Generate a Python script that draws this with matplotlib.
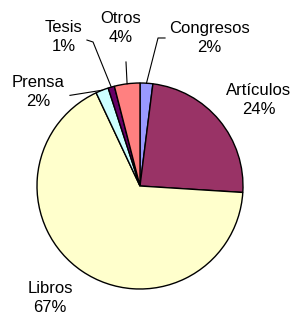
import matplotlib
matplotlib.use('Agg')
from matplotlib import pyplot as plt
import numpy as np

# Publication types (clockwise from top)
labels = ["Congresos", "Artículos", "Libros", "Prensa", "Tesis", "Otros"]
values = [2, 24, 67, 2, 1, 4]
colors = ['#9999FF', '#993366', '#FFFFCC', '#CCFFFF', '#660066', '#FF8080']

# label text positions (data units, pie radius = 1)
text_pos = [(0.67, 1.437), (1.155, 0.835), (-0.874, -1.087),
            (-0.99, 0.913), (-0.738, 1.447), (-0.184, 1.534)]
# leader lines start points (None = no line)
leaders = [[(0.243, 1.437), (0.175, 1.437)], None, None,
           [(-0.68, 0.88)], [(-0.515, 1.417), (-0.456, 1.398)],
           [(-0.136, 1.204)]]

plt.rcParams['font.family'] = ['Liberation Sans', 'DejaVu Sans']

fig = plt.figure(figsize=(2.94, 3.18), dpi=100)
ax = fig.add_axes([0, 0, 1, 1])
wedges, _ = ax.pie(values, colors=colors, startangle=90, counterclock=False,
                   radius=1.0, wedgeprops=dict(edgecolor='black', linewidth=1.0))

total = float(sum(values))
cum = 0.0
for i, v in enumerate(values):
    mid = 90 - 360 * (cum + v / 2) / total
    cum += v
    ex, ey = np.cos(np.radians(mid)), np.sin(np.radians(mid))
    pct = int(round(100 * v / total))
    tx, ty = text_pos[i]
    ax.text(tx, ty, "%s\n%d%%" % (labels[i], pct), ha='center', va='center',
            fontsize=12, linespacing=1.3, color='black')
    if leaders[i] is not None:
        pts = leaders[i] + [(ex, ey)]
        xs = [p[0] for p in pts]
        ys = [p[1] for p in pts]
        ax.plot(xs, ys, color='black', linewidth=0.8)

ax.set_xlim(-140 / 103.0, 154 / 103.0)
ax.set_ylim(-132 / 103.0, 186 / 103.0)
ax.set_aspect('auto')
ax.axis('off')
plt.savefig('out.png', dpi=100)
plt.close()
